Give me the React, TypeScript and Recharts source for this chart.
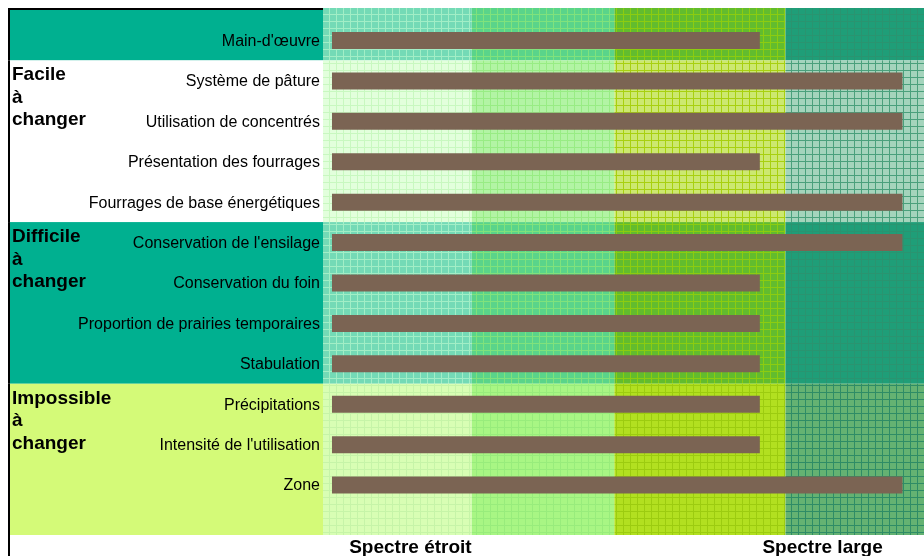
import { BarChart, Bar, XAxis, YAxis, ReferenceArea } from "recharts"

const categories = [
  "Main-d'œuvre",
  "Système de pâture",
  "Utilisation de concentrés",
  "Présentation des fourrages",
  "Fourrages de base énergétiques",
  "Conservation de l'ensilage",
  "Conservation du foin",
  "Proportion de prairies temporaires",
  "Stabulation",
  "Précipitations",
  "Intensité de l'utilisation",
  "Zone",
]
const spectrum = [3, 4, 4, 3, 4, 4, 3, 3, 3, 3, 3, 4]

const groupLabels = [
  [],
  ["Facile", "à", "changer"],
  ["Difficile", "à", "changer"],
  ["Impossible", "à", "changer"],
]
const groupFirst = ["Main-d'œuvre", "Système de pâture", "Conservation de l'ensilage", "Précipitations"]
const groupLast = ["Main-d'œuvre", "Fourrages de base énergétiques", "Stabulation", "Zone"]

const zoneEdges = [-0.063, 0.98, 1.98, 3.18, 4.151]
const spectrumTicks = [0.55, 3.44]
const spectrumLabels = ["Spectre étroit", "Spectre large"]

// styles
const panelColors = ["#00b090", "#ffffff", "#00b090", "#d4fa78"]
const cellBase = [
  ["#74dab6", "#5ad48a", "#62bc2e", "#1f9e78"],
  ["#e2ffdc", "#b2f4a4", "#cce870", "#a4d4bc"],
  ["#74dab6", "#5ad48a", "#62bc2e", "#1f9e78"],
  ["#d8feb4", "#a8f684", "#b2e020", "#64b272"],
]
const cellLine = [
  ["#a2eec6", "#80e27c", "#8ccc10", "#2a9470"],
  ["#c8f8c0", "#98ec84", "#a8d010", "#4aa07c"],
  ["#a2eec6", "#80e27c", "#8ccc10", "#2a9470"],
  ["#c6f4a8", "#98ec7c", "#9ccc10", "#2e8c66"],
]

const W = 916
const H = 548
const PLOT_TOP = 0
const PLOT_BOTTOM = 527
const FONT = "'Liberation Sans', Arial, sans-serif"

const rows = categories.map((name, i) => ({ name, value: spectrum[i] }))
const lastGroup = groupLabels.length - 1

// first and last group reach the plot edges
const stretch = (g: number, y: number, height: number) => {
  const top = g === 0 ? PLOT_TOP : y
  const bottom = g === lastGroup ? PLOT_BOTTOM : y + height
  return [top, bottom]
}

const panelShape = (g: number) => (p: any) => {
  const [top, bottom] = stretch(g, p.y, p.height)
  return (
    <g>
      <rect x={2} y={top} width={p.x - 2} height={bottom - top} fill={panelColors[g]} />
      {groupLabels[g].map((line, i) => (
        <text
          key={i}
          x={4}
          y={top + 20 + i * 22.5}
          fontSize={19}
          fontWeight="bold"
          fontFamily={FONT}
          fill="#000"
        >
          {line}
        </text>
      ))}
      <rect x={0} y={top} width={2} height={(g === lastGroup ? H : bottom) - top} fill="#000" />
      {g === 0 && <rect x={0} y={0} width={p.x} height={2} fill="#000" />}
    </g>
  )
}

const cellShape = (g: number, c: number) => (p: any) => {
  const [top, bottom] = stretch(g, p.y, p.height)
  return <rect x={p.x} y={top} width={p.width} height={bottom - top} fill={`url(#zone-${g}-${c})`} />
}

export default function App() {
  return (
    <div style={{ position: "fixed", left: 8, top: 8, width: W, height: H }}>
      <BarChart
        width={W}
        height={H}
        data={rows}
        layout="vertical"
        margin={{ top: 0, right: 0, bottom: 0, left: 0 }}
      >
        <defs>
          {cellBase.map((row, g) =>
            row.map((base, c) => (
              <pattern
                key={`${g}-${c}`}
                id={`zone-${g}-${c}`}
                width={7}
                height={7}
                patternUnits="userSpaceOnUse"
              >
                <rect width={7} height={7} fill={base} />
                <rect x={6} width={1} height={7} fill={cellLine[g][c]} />
                <rect y={6} width={7} height={1} fill={cellLine[g][c]} />
              </pattern>
            ))
          )}
        </defs>
        {groupLabels.map((_, g) => (
          <ReferenceArea
            key={`panel-${g}`}
            y1={groupFirst[g]}
            y2={groupLast[g]}
            ifOverflow="visible"
            fillOpacity={1}
            shape={panelShape(g)}
          />
        ))}
        {groupLabels.map((_, g) =>
          zoneEdges.slice(0, -1).map((x1, c) => (
            <ReferenceArea
              key={`cell-${g}-${c}`}
              x1={x1}
              x2={zoneEdges[c + 1]}
              y1={groupFirst[g]}
              y2={groupLast[g]}
              ifOverflow="visible"
              fillOpacity={1}
              shape={cellShape(g, c)}
            />
          ))
        )}
        <Bar dataKey="value" fill="#7b6453" barSize={17} isAnimationActive={false} />
        <XAxis
          type="number"
          domain={[zoneEdges[0], zoneEdges[zoneEdges.length - 1]]}
          allowDataOverflow
          ticks={spectrumTicks}
          interval={0}
          tickFormatter={(v) => spectrumLabels[spectrumTicks.indexOf(v)]}
          height={21}
          tickLine={false}
          axisLine={false}
          tickSize={0}
          tickMargin={5}
          tick={{ fontSize: 19, fontWeight: "bold", fill: "#000", fontFamily: FONT }}
        />
        <YAxis
          type="category"
          dataKey="name"
          width={315}
          interval={0}
          tickLine={false}
          axisLine={false}
          tickSize={0}
          tickMargin={3}
          padding={{ top: 12, bottom: 30 }}
          tick={{ fontSize: 16, fill: "#000", fontFamily: FONT }}
        />
      </BarChart>
    </div>
  )
}
